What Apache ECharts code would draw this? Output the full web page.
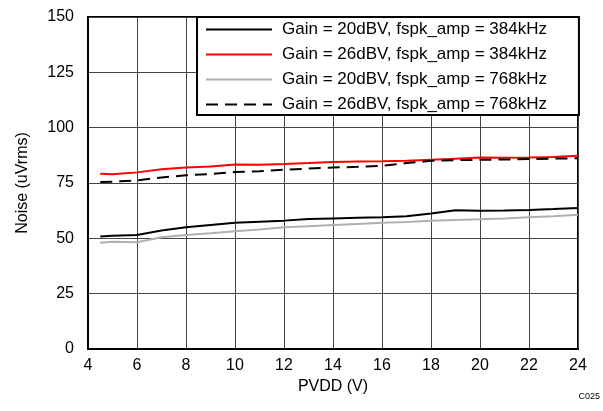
<!DOCTYPE html>
<html>
<head>
<meta charset="utf-8">
<script src="https://cdn.jsdelivr.net/npm/echarts@6/dist/echarts.min.js"></script>
<style>
  html, body { margin: 0; padding: 0; background: #fff; }
  #chart { width: 603px; height: 411px; }
</style>
</head>
<body>
<div id="chart"></div>
<script>
// PVDD sweep points
var pvdd = [4.5, 5, 6, 7, 8, 9, 10, 11, 12, 13, 14, 15, 16, 17, 18, 19, 20, 21, 22, 23, 24];

// noise values (uVrms)
var g20_384 = [50.8, 51.2, 51.5, 53.5, 55, 56, 57, 57.5, 58, 58.7, 59, 59.3, 59.5, 60, 61.2, 62.7, 62.5, 62.6, 62.8, 63.2, 63.7];
var g26_384 = [79.2, 79, 79.8, 81.2, 82, 82.5, 83.4, 83.3, 83.6, 84, 84.5, 84.7, 84.8, 85, 85.5, 86, 86.5, 86.4, 86.5, 86.8, 87.3];
var g20_768 = [48, 48.5, 48.2, 50.5, 51.5, 52.3, 53.2, 54, 55, 55.5, 56, 56.5, 57, 57.4, 58, 58.3, 58.6, 59, 59.5, 60, 60.6];
var g26_768 = [75.5, 75.6, 76.2, 77.5, 78.5, 79, 80, 80.3, 81, 81.5, 82, 82.3, 82.8, 84, 85, 85.3, 85.5, 85.6, 85.8, 86, 86.2];

var names = [
  'Gain = 20dBV, fspk_amp = 384kHz',
  'Gain = 26dBV, fspk_amp = 384kHz',
  'Gain = 20dBV, fspk_amp = 768kHz',
  'Gain = 26dBV, fspk_amp = 768kHz'
];

var font = 'Liberation Sans, Arial, sans-serif';

function pairs(ys) {
  return pvdd.map(function (x, i) { return [x, ys[i]]; });
}

function mkLine(name, ys, color, dash) {
  return {
    name: name,
    type: 'line',
    data: pairs(ys),
    symbol: 'none',
    lineStyle: { color: color, width: 2, type: dash ? [12, 7] : 'solid' },
    itemStyle: { color: color }
  };
}

var chart = echarts.init(document.getElementById('chart'));
chart.setOption({
  backgroundColor: '#fff',
  animation: false,
  textStyle: { fontFamily: font },
  grid: {
    left: 88, right: 25, top: 17, bottom: 62,
    show: true, borderColor: '#000', borderWidth: 2
  },
  legend: {
    orient: 'vertical',
    left: 197, top: 17,
    padding: [4, 32, 2, 8],
    itemGap: 8,
    itemWidth: 66, itemHeight: 17,
    backgroundColor: '#fff',
    borderColor: '#000', borderWidth: 2,
    borderRadius: 0,
    itemStyle: { opacity: 0 },
    textStyle: { fontSize: 17, color: '#000', fontFamily: font, padding: [0, 0, 0, 5] },
    data: names
  },
  xAxis: {
    type: 'value',
    min: 4, max: 24, interval: 2,
    name: 'PVDD (V)',
    nameLocation: 'middle',
    nameGap: 27,
    nameTextStyle: { fontSize: 16, color: '#000' },
    axisLine: { lineStyle: { color: '#000', width: 2 } },
    axisTick: { show: false },
    axisLabel: { fontSize: 16, color: '#000', margin: 9 },
    splitLine: { show: true, lineStyle: { color: '#444', width: 1 } }
  },
  yAxis: {
    type: 'value',
    min: 0, max: 150, interval: 25,
    name: 'Noise (uVrms)',
    nameLocation: 'middle',
    nameGap: 57,
    nameTextStyle: { fontSize: 16, color: '#000' },
    axisLine: { show: true, lineStyle: { color: '#000', width: 2 } },
    axisTick: { show: false },
    axisLabel: { fontSize: 16, color: '#000', margin: 14 },
    splitLine: { show: true, lineStyle: { color: '#444', width: 1 } }
  },
  graphic: [{
    type: 'text',
    right: 3, top: 392,
    style: { text: 'C025', fontSize: 9, fill: '#000', fontFamily: font }
  }],
  series: [
    mkLine(names[0], g20_384, '#000000', false),
    mkLine(names[1], g26_384, '#ff0000', false),
    mkLine(names[2], g20_768, '#b0b0b0', false),
    mkLine(names[3], g26_768, '#000000', true)
  ]
});
</script>
</body>
</html>
